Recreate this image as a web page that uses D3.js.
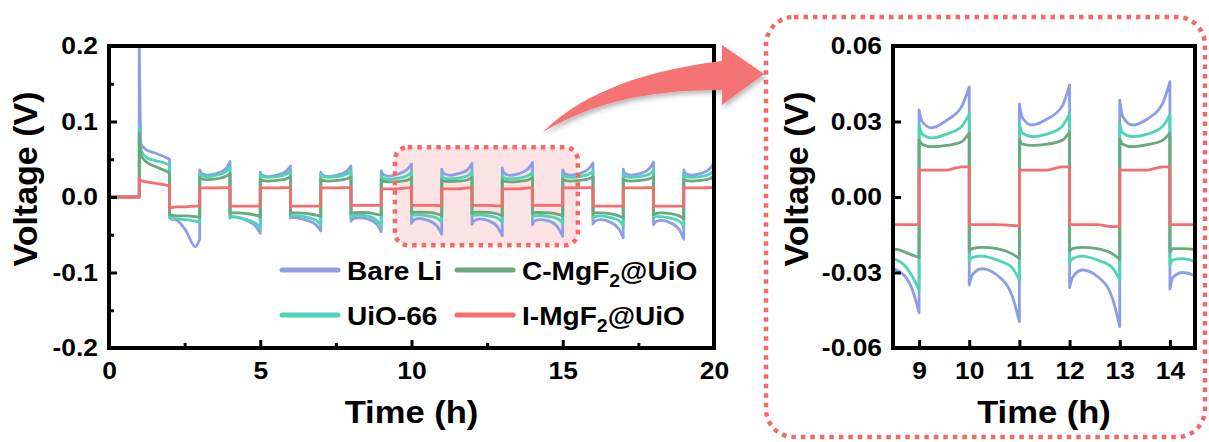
<!DOCTYPE html>
<html>
<head>
<meta charset="utf-8">
<script src="https://cdn.jsdelivr.net/npm/d3@7"></script>
<style>
  body { margin: 0; background: #fff; }
  svg { display: block; font-family: "Liberation Sans", Arial, sans-serif; font-weight: bold; }
</style>
</head>
<body>
<div id="chart"></div>
<script>
// series names / colours
const seriesNames = ["Bare Li", "UiO-66", "C-MgF2@UiO", "I-MgF2@UiO"];
const seriesColors = ["#8c9fe6", "#4fd4b6", "#68a97d", "#f66d6d"];

// rest before cycling (h, V)
const restTime = [0, 1];
const restVolt = [0, 0];

// each half cycle lasts 1 h; values read at these fractions of the half cycle
const halfStart = [1, 2, 3, 4, 5, 6, 7, 8, 9, 10, 11, 12, 13, 14, 15, 16, 17, 18, 19];
const halfFrac = [0, 0.06, 0.25, 0.55, 0.85, 1];

// voltage (V) per half cycle
const bareLi = [
  [0.200, 0.070, 0.062, 0.058, 0.053, 0.050],
  [-0.027, -0.029, -0.031, -0.045, -0.066, -0.056],
  [0.036, 0.031, 0.029, 0.031, 0.037, 0.047],
  [-0.028, -0.026, -0.027, -0.031, -0.039, -0.048],
  [0.033, 0.029, 0.027, 0.029, 0.034, 0.041],
  [-0.028, -0.027, -0.028, -0.031, -0.037, -0.045],
  [0.033, 0.029, 0.027, 0.029, 0.034, 0.041],
  [-0.032, -0.029, -0.0275, -0.029, -0.036, -0.046],
  [0.0346, 0.030, 0.0275, 0.0305, 0.036, 0.0437],
  [-0.035, -0.031, -0.0285, -0.031, -0.039, -0.0495],
  [0.037, 0.0315, 0.0286, 0.031, 0.036, 0.0445],
  [-0.036, -0.032, -0.029, -0.0315, -0.040, -0.0515],
  [0.0385, 0.032, 0.0286, 0.031, 0.037, 0.0458],
  [-0.0366, -0.032, -0.030, -0.032, -0.041, -0.052],
  [0.036, 0.031, 0.029, 0.031, 0.037, 0.045],
  [-0.036, -0.032, -0.030, -0.033, -0.042, -0.054],
  [0.037, 0.031, 0.029, 0.031, 0.037, 0.046],
  [-0.037, -0.033, -0.031, -0.034, -0.043, -0.056],
  [0.036, 0.031, 0.029, 0.031, 0.037, 0.045]
];
const uio66 = [
  [0.092, 0.062, 0.052, 0.048, 0.045, 0.042],
  [-0.025, -0.027, -0.029, -0.030, -0.032, -0.033],
  [0.031, 0.028, 0.027, 0.029, 0.033, 0.040],
  [-0.027, -0.026, -0.027, -0.030, -0.035, -0.041],
  [0.030, 0.027, 0.026, 0.027, 0.030, 0.034],
  [-0.026, -0.025, -0.025, -0.027, -0.031, -0.037],
  [0.030, 0.027, 0.026, 0.027, 0.030, 0.034],
  [-0.027, -0.025, -0.024, -0.025, -0.031, -0.037],
  [0.0286, 0.025, 0.0235, 0.025, 0.028, 0.033],
  [-0.0255, -0.024, -0.0235, -0.025, -0.028, -0.033],
  [0.029, 0.0255, 0.024, 0.025, 0.028, 0.033],
  [-0.026, -0.0245, -0.0235, -0.025, -0.028, -0.033],
  [0.029, 0.0255, 0.024, 0.025, 0.028, 0.0326],
  [-0.027, -0.025, -0.0245, -0.026, -0.029, -0.035],
  [0.030, 0.027, 0.026, 0.027, 0.030, 0.034],
  [-0.028, -0.026, -0.025, -0.027, -0.031, -0.038],
  [0.030, 0.027, 0.026, 0.027, 0.030, 0.035],
  [-0.028, -0.026, -0.026, -0.028, -0.032, -0.039],
  [0.030, 0.027, 0.026, 0.027, 0.030, 0.035]
];
const cMgF2 = [
  [0.085, 0.055, 0.046, 0.040, 0.035, 0.032],
  [-0.022, -0.024, -0.025, -0.025, -0.026, -0.027],
  [0.026, 0.024, 0.023, 0.024, 0.027, 0.031],
  [-0.022, -0.021, -0.021, -0.022, -0.024, -0.026],
  [0.024, 0.022, 0.021, 0.022, 0.024, 0.027],
  [-0.022, -0.021, -0.021, -0.022, -0.024, -0.026],
  [0.024, 0.022, 0.021, 0.022, 0.024, 0.027],
  [-0.022, -0.021, -0.0205, -0.0208, -0.023, -0.024],
  [0.0226, 0.021, 0.020, 0.0205, 0.022, 0.0254],
  [-0.0215, -0.0205, -0.020, -0.0205, -0.0225, -0.0245],
  [0.023, 0.021, 0.0205, 0.021, 0.0225, 0.0258],
  [-0.0215, -0.0205, -0.020, -0.0205, -0.0225, -0.0248],
  [0.023, 0.021, 0.020, 0.0208, 0.0225, 0.0254],
  [-0.022, -0.0205, -0.0205, -0.021, -0.023, -0.025],
  [0.024, 0.022, 0.021, 0.022, 0.024, 0.027],
  [-0.023, -0.021, -0.021, -0.022, -0.025, -0.028],
  [0.024, 0.022, 0.021, 0.022, 0.024, 0.027],
  [-0.023, -0.022, -0.021, -0.022, -0.025, -0.029],
  [0.024, 0.022, 0.021, 0.022, 0.024, 0.028]
];
const iMgF2 = [
  [0.025, 0.022, 0.020, 0.018, 0.016, 0.015],
  [-0.015, -0.014, -0.013, -0.013, -0.012, -0.012],
  [0.012, 0.012, 0.012, 0.012, 0.0125, 0.0125],
  [-0.012, -0.012, -0.012, -0.012, -0.012, -0.012],
  [0.012, 0.012, 0.012, 0.012, 0.0125, 0.0125],
  [-0.012, -0.012, -0.012, -0.012, -0.012, -0.012],
  [0.012, 0.012, 0.012, 0.012, 0.0125, 0.0125],
  [-0.011, -0.011, -0.011, -0.011, -0.011, -0.011],
  [0.0107, 0.0107, 0.0107, 0.0107, 0.012, 0.012],
  [-0.011, -0.011, -0.011, -0.011, -0.0113, -0.0115],
  [0.0107, 0.0107, 0.0107, 0.0107, 0.012, 0.012],
  [-0.011, -0.011, -0.011, -0.011, -0.0118, -0.0118],
  [0.0107, 0.0107, 0.0107, 0.0107, 0.012, 0.012],
  [-0.011, -0.011, -0.011, -0.011, -0.011, -0.011],
  [0.012, 0.012, 0.012, 0.012, 0.0125, 0.0125],
  [-0.012, -0.012, -0.012, -0.012, -0.012, -0.012],
  [0.012, 0.012, 0.012, 0.012, 0.0125, 0.0125],
  [-0.012, -0.012, -0.012, -0.012, -0.012, -0.012],
  [0.012, 0.012, 0.012, 0.012, 0.0125, 0.0125]
];
const seriesValues = [bareLi, uio66, cMgF2, iMgF2];

// ticks
const leftXTicks = [0, 5, 10, 15, 20];
const leftXMinor = [2.5, 7.5, 12.5, 17.5];
const leftYTicks = [-0.2, -0.1, 0, 0.1, 0.2];
const leftYMinor = [-0.15, -0.05, 0.05, 0.15];
const rightXTicks = [9, 10, 11, 12, 13, 14];
const rightYTicks = [-0.06, -0.03, 0, 0.03, 0.06];

const width = 1209;
const height = 442;
const textScale = "scale(1.1,1)";

const svg = d3.select('#chart')
  .append('svg')
  .attr('width', width)
  .attr('height', height)

const defs = svg.append('defs')
defs.append('filter')
  .attr('id', 'shadow')
  .attr('x', '-20%').attr('y', '-20%').attr('width', '140%').attr('height', '160%')
  .append('feDropShadow')
  .attr('dx', 2).attr('dy', 3).attr('stdDeviation', 2.5)
  .attr('flood-color', '#000').attr('flood-opacity', 0.28)

// build segments: rest + one per half cycle
const segments = seriesValues.map(vals => {
  const rest = restTime.map((t, j) => [t, restVolt[j]]);
  const halves = halfStart.map((t0, i) => halfFrac.map((f, j) => [t0 + f, vals[i][j]]));
  return [rest].concat(halves);
});

function seriesPath(x, y, segs) {
  const line = d3.line()
    .x(d => x(d[0]))
    .y(d => y(d[1]))
    .curve(d3.curveMonotoneX);
  return segs.map((s, k) => {
    const p = line(s);
    return k ? 'L' + p.slice(1) : p;
  }).join('');
}

function panel(id, x, y, xTicks, xMinor, yTicks, yMinor, yFmt, beforeLines, afterLines) {
  const g = svg.append('g').attr('id', id);
  const [x0, x1] = x.range();
  const [y0, y1] = y.range();

  defs.append('clipPath')
    .attr('id', 'clip-' + id)
    .append('rect')
    .attr('x', x0).attr('y', y1)
    .attr('width', x1 - x0).attr('height', y0 - y1)

  if (beforeLines) beforeLines(g);

  g.append('g')
    .attr('clip-path', `url(#clip-${id})`)
    .selectAll('path')
    .data(segments)
    .enter()
    .append('path')
    .attr('d', d => seriesPath(x, y, d))
    .attr('fill', 'none')
    .attr('stroke', (d, i) => seriesColors[i])
    .attr('stroke-width', 2.8)
    .attr('stroke-linejoin', 'round')

  if (afterLines) afterLines(g);

  const xAxis = d3.axisBottom(x)
    .tickValues(xTicks)
    .tickSize(-8)
    .tickPadding(14)
    .tickFormat(d3.format('d'))

  const yAxis = d3.axisLeft(y)
    .tickValues(yTicks)
    .tickSize(-8)
    .tickPadding(10)
    .tickFormat(yFmt)

  g.append('g')
    .attr('transform', `translate(0, ${y0})`)
    .call(xAxis)
  g.append('g')
    .attr('transform', `translate(${x0}, 0)`)
    .call(yAxis)

  if (xMinor) {
    g.append('g')
      .attr('transform', `translate(0, ${y0})`)
      .call(d3.axisBottom(x).tickValues(xMinor).tickSize(-5).tickFormat(''))
  }
  if (yMinor) {
    g.append('g')
      .attr('transform', `translate(${x0}, 0)`)
      .call(d3.axisLeft(y).tickValues(yMinor).tickSize(-5).tickFormat(''))
  }

  g.selectAll('.domain').remove();
  g.selectAll('.tick line').attr('stroke', '#000').attr('stroke-width', 3);
  g.selectAll('.tick text')
    .attr('fill', '#000')
    .style('font-size', '24px')
    .style('font-family', '"Liberation Sans", Arial, sans-serif')
    .style('font-weight', 'bold')
    .attr('transform', textScale)

  g.append('rect')
    .attr('x', x0).attr('y', y1)
    .attr('width', x1 - x0).attr('height', y0 - y1)
    .attr('fill', 'none')
    .attr('stroke', '#000')
    .attr('stroke-width', 4)

  g.append('text')
    .attr('transform', `translate(${(x0 + x1) / 2}, 423) scale(1.08,1)`)
    .attr('text-anchor', 'middle')
    .style('font-size', '32px')
    .text('Time (h)')

  return g;
}

// left panel
const xL = d3.scaleLinear().domain([0, 20]).range([109, 714]);
const yL = d3.scaleLinear().domain([-0.2, 0.2]).range([348, 46]);

// zoomed window on the left panel (h, V)
const zoomWin = { t0: 9.45, t1: 15.5, v0: -0.064, v1: 0.066 };

panel('left', xL, yL, leftXTicks, leftXMinor, leftYTicks, leftYMinor,
  d => d.toFixed(1),
  g => {
    g.append('rect')
      .attr('x', xL(zoomWin.t0)).attr('y', yL(zoomWin.v1))
      .attr('width', xL(zoomWin.t1) - xL(zoomWin.t0))
      .attr('height', yL(zoomWin.v0) - yL(zoomWin.v1))
      .attr('rx', 13)
      .attr('fill', '#fde3e3')
  },
  g => {
    g.append('rect')
      .attr('x', xL(zoomWin.t0)).attr('y', yL(zoomWin.v1))
      .attr('width', xL(zoomWin.t1) - xL(zoomWin.t0))
      .attr('height', yL(zoomWin.v0) - yL(zoomWin.v1))
      .attr('rx', 13)
      .attr('fill', 'none')
      .attr('stroke', '#f46a6a')
      .attr('stroke-width', 4.5)
      .attr('stroke-dasharray', '4.5 5')
  });

svg.append('text')
  .attr('transform', 'translate(37, 179) rotate(-90)')
  .attr('text-anchor', 'middle')
  .style('font-size', '34px')
  .text('Voltage (V)')

// legend
const legendPos = [[282, 270], [282, 315], [457, 270], [457, 315]];
const items = svg.append('g')
  .attr('id', 'legend')
  .selectAll('g')
  .data(seriesNames)
  .enter()
  .append('g')
  .attr('transform', (d, i) => `translate(${legendPos[i][0]}, ${legendPos[i][1]})`)

items.append('line')
  .attr('x1', 0).attr('x2', 56)
  .attr('stroke', (d, i) => seriesColors[i])
  .attr('stroke-width', 5)
  .attr('stroke-linecap', 'round')

items.append('text')
  .attr('transform', 'translate(65, 10) scale(1.08,1)')
  .style('font-size', '26px')
  .each(function (d) {
    const t = d3.select(this);
    const m = d.match(/^(.*MgF)2(@UiO)$/);
    if (m) {
      t.append('tspan').text(m[1]);
      t.append('tspan').attr('dy', 7).style('font-size', '18px').text('2');
      t.append('tspan').attr('dy', -7).text(m[2]);
    } else {
      t.text(d);
    }
  })

// right panel (zoom)
const xR = d3.scaleLinear().domain([8.48, 14.5]).range([893, 1195]);
const yR = d3.scaleLinear().domain([-0.06, 0.06]).range([348, 46]);

panel('right', xR, yR, rightXTicks, null, rightYTicks, null, d => d.toFixed(2));

svg.append('text')
  .attr('transform', 'translate(808, 179) rotate(-90)')
  .attr('text-anchor', 'middle')
  .style('font-size', '34px')
  .text('Voltage (V)')

// dotted frame round the zoom panel
svg.append('rect')
  .attr('x', 766).attr('y', 17)
  .attr('width', 439).attr('height', 420)
  .attr('rx', 28)
  .attr('fill', 'none')
  .attr('stroke', '#f46a6a')
  .attr('stroke-width', 4.5)
  .attr('stroke-dasharray', '4.5 5')

// curved arrow
svg.append('path')
  .attr('d', 'M543,132 C575,100 630,72 722,61 L722,45 L764,74 L722,105 L722,90 C640,90 590,105 543,132 Z')
  .attr('fill', '#f57373')
  .attr('filter', 'url(#shadow)')
</script>
</body>
</html>
